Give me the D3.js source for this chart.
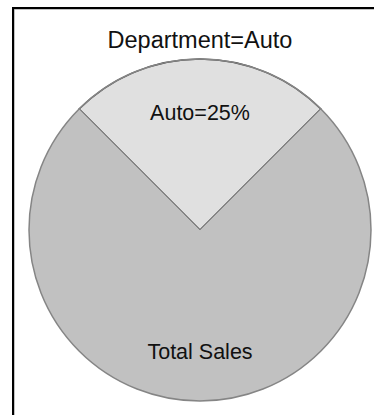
<!DOCTYPE html>
<html>
<head>
<meta charset="utf-8">
<script src="https://cdn.jsdelivr.net/npm/d3@7"></script>
<style>
  html, body { margin: 0; padding: 0; background: #ffffff; }
  svg { display: block; }
  text { font-family: "Liberation Sans", Arial, sans-serif; fill: #111; }
</style>
</head>
<body>
<svg id="chart" width="374" height="415"></svg>
<script>
// Share of total sales for the selected department
const title = "Department=Auto";
const categories = ["Auto", "Other"];
const values = [25, 75];
const sliceLabels = ["Auto=25%", "Total Sales"];
const sliceColors = ["#e0e0e0", "#c1c1c1"];

const svg = d3.select("#chart");
const W = 374, H = 415;
const cx = 200, cy = 230, R = 171;

// Frame around the panel, with a soft shadow edge
svg.append("rect")
  .attr("x", 14).attr("y", 9)
  .attr("width", W).attr("height", H)
  .attr("fill", "none").attr("stroke", "#9a9a9a").attr("stroke-width", 1.2);
svg.append("rect")
  .attr("x", 13).attr("y", 8)
  .attr("width", W).attr("height", H)
  .attr("fill", "none").attr("stroke", "#000").attr("stroke-width", 2);

svg.append("text")
  .attr("x", cx).attr("y", 48)
  .attr("text-anchor", "middle")
  .style("font-size", "23.5px")
  .text(title);

const pie = d3.pie().sort(null)
  .startAngle(-Math.PI / 4)
  .endAngle(2 * Math.PI - Math.PI / 4);
const arcs = pie(values);
const arc = d3.arc().innerRadius(0).outerRadius(R);
const labelArc = d3.arc().innerRadius(R * 0.7).outerRadius(R * 0.7);

const g = svg.append("g").attr("transform", `translate(${cx},${cy})`);

g.selectAll("path.slice")
  .data(arcs)
  .join("path")
  .attr("class", "slice")
  .attr("d", arc)
  .attr("fill", (d, i) => sliceColors[i])
  .attr("stroke", (d, i) => i === 0 ? "#454545" : "none")
  .attr("stroke-width", 1.5)
  .attr("stroke-linejoin", "miter");

// Lighter outline along the rim
g.append("circle")
  .attr("r", R)
  .attr("fill", "none")
  .attr("stroke", "#858585")
  .attr("stroke-width", 1.5);

g.selectAll("text.label")
  .data(arcs)
  .join("text")
  .attr("class", "label")
  .attr("transform", d => `translate(${labelArc.centroid(d)})`)
  .attr("text-anchor", "middle")
  .attr("dy", "0.45em")
  .style("font-size", "21.5px")
  .text((d, i) => sliceLabels[i]);
</script>
</body>
</html>
